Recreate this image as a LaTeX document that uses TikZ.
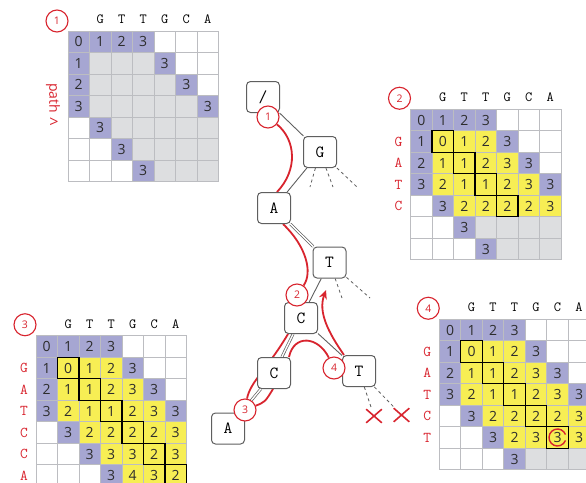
\documentclass[tikz,border=0pt]{standalone}
\usepackage{fontspec}
\newfontfamily\numfont{Open Sans}
\usetikzlibrary{arrows.meta, positioning, backgrounds, shapes.misc}
\definecolor{cellblue}{RGB}{166,166,210}
\definecolor{cellyellow}{RGB}{247,238,84}
\definecolor{cellgray}{RGB}{221,222,224}
\definecolor{gridgray}{RGB}{188,189,193}
\definecolor{pathred}{RGB}{216,36,46}
\definecolor{nodegray}{RGB}{95,95,95}
\definecolor{digitgray}{RGB}{45,45,45}

\begin{document}
\begin{tikzpicture}[x=1pt, y=-1pt,
    cell/.style={draw=gridgray, line width=0.8pt, minimum width=21.5pt, minimum height=21.5pt, inner sep=0pt, outer sep=0pt, text=digitgray, font=\numfont\fontsize{14}{14}\selectfont},
    bl/.style={fill=cellblue},
    ye/.style={fill=cellyellow},
    gr/.style={fill=cellgray},
    wh/.style={fill=white},
    diag/.style={draw=black, line width=1.2pt},
    hdr/.style={inner sep=0pt, font=\ttfamily\fontsize{14}{14}\selectfont},
    rowlab/.style={inner sep=0pt, text=pathred, font=\ttfamily\fontsize{15}{15}\selectfont},
    stepnum/.style={circle, draw=pathred, line width=1.1pt, fill=white, minimum size=22pt, inner sep=0pt, text=pathred, font=\numfont\fontsize{10.5}{10.5}\selectfont},
    pathlab/.style={inner sep=0pt, text=pathred, font=\numfont\fontsize{14}{14}\selectfont},
    trie/.style={draw=nodegray, fill=white, line width=1pt, rounded corners=4pt, minimum width=33pt, minimum height=31pt, inner sep=0pt, font=\ttfamily\fontsize{17}{17}\selectfont},
    edge/.style={draw=nodegray, line width=0.9pt},
    dedge/.style={draw=nodegray, line width=0.7pt, double=white, double distance=1.4pt},
    stub/.style={draw=nodegray, line width=0.8pt, dash pattern=on 3pt off 3pt},
    redpath/.style={draw=pathred, line width=1.8pt},
    xmark/.style={cross out, draw=pathred, line width=1.6pt, minimum width=14pt, minimum height=12pt, inner sep=0pt}
]
\useasboundingbox (0,0) rectangle (586,482);
\clip (0,0) rectangle (586,482);

% matrix 1
\foreach \row [count=\rw from 0] in {
    {bl/0,bl/1,bl/2,bl/3,wh/,wh/,wh/},
    {bl/1,gr/,gr/,gr/,bl/3,wh/,wh/},
    {bl/2,gr/,gr/,gr/,gr/,bl/3,wh/},
    {bl/3,gr/,gr/,gr/,gr/,gr/,bl/3},
    {wh/,bl/3,gr/,gr/,gr/,gr/,gr/},
    {wh/,wh/,bl/3,gr/,gr/,gr/,gr/},
    {wh/,wh/,wh/,bl/3,gr/,gr/,gr/}}
  \foreach \s/\v [count=\col from 0] in \row
    \node[cell, \s] (ma-\rw-\col) at ({78.75+21.5*\col}, {41.75+21.5*\rw}) {\v};
\foreach \letter [count=\col] in {G,T,T,G,C,A}
  \node[hdr] (ma-h\col) at ([yshift=12pt]ma-0-\col.north) {\letter};
\node[stepnum] (na) at ([shift={(-11pt,10pt)}]ma-0-0.north west) {1};
\node[pathlab, rotate=-90] (plab) at ([shift={(-15pt,8pt)}]ma-3-0.west) {path};
\node[pathlab, font=\numfont\fontsize{16}{16}\selectfont] (parrow) at ([shift={(-14pt,-16pt)}]ma-3-0.west) {>};

% matrix 2
\foreach \row [count=\rw from 0] in {
    {bl/0,bl/1,bl/2,bl/3,wh/,wh/,wh/},
    {bl/1,ye/0,ye/1,ye/2,bl/3,wh/,wh/},
    {bl/2,ye/1,ye/1,ye/2,ye/3,bl/3,wh/},
    {bl/3,ye/2,ye/1,ye/1,ye/2,ye/3,bl/3},
    {wh/,bl/3,ye/2,ye/2,ye/2,ye/2,ye/3},
    {wh/,wh/,bl/3,gr/,gr/,gr/,gr/},
    {wh/,wh/,wh/,bl/3,gr/,gr/,gr/}}
  \foreach \s/\v [count=\col from 0] in \row
    \node[cell, \s] (mb-\rw-\col) at ({421.25+21.5*\col}, {120+21.5*\rw}) {\v};
\foreach \i in {1,...,4}
  \draw[diag] (mb-\i-\i.north west) rectangle (mb-\i-\i.south east);
\foreach \letter [count=\col] in {G,T,T,G,C,A}
  \node[hdr] (mb-h\col) at ([yshift=12pt]mb-0-\col.north) {\letter};
\foreach \letter [count=\rw] in {G,A,T,C}
  \node[rowlab] (mb-l\rw) at ([xshift=-12pt]mb-\rw-0.west) {\letter};
\node[stepnum] (nb) at ([shift={(-11pt,11pt)}]mb-0-0.north west) {2};

% matrix 3
\foreach \row [count=\rw from 0] in {
    {bl/0,bl/1,bl/2,bl/3,wh/,wh/,wh/},
    {bl/1,ye/0,ye/1,ye/2,bl/3,wh/,wh/},
    {bl/2,ye/1,ye/1,ye/2,ye/3,bl/3,wh/},
    {bl/3,ye/2,ye/1,ye/1,ye/2,ye/3,bl/3},
    {wh/,bl/3,ye/2,ye/2,ye/2,ye/2,ye/3},
    {wh/,wh/,bl/3,ye/3,ye/3,ye/2,ye/3},
    {wh/,wh/,wh/,bl/3,ye/4,ye/3,ye/2}}
  \foreach \s/\v [count=\col from 0] in \row
    \node[cell, \s] (mc-\rw-\col) at ({46.75+21.5*\col}, {346.5+21.5*\rw}) {\v};
\foreach \i in {1,...,6}
  \draw[diag] (mc-\i-\i.north west) rectangle (mc-\i-\i.south east);
\foreach \letter [count=\col] in {G,T,T,G,C,A}
  \node[hdr] (mc-h\col) at ([yshift=12pt]mc-0-\col.north) {\letter};
\foreach \letter [count=\rw] in {G,A,T,C,C,A}
  \node[rowlab] (mc-l\rw) at ([xshift=-12pt]mc-\rw-0.west) {\letter};
\node[stepnum] (nc) at ([shift={(-11pt,11pt)}]mc-0-0.north west) {3};

% matrix 4
\foreach \row [count=\rw from 0] in {
    {bl/0,bl/1,bl/2,bl/3,wh/,wh/,wh/},
    {bl/1,ye/0,ye/1,ye/2,bl/3,wh/,wh/},
    {bl/2,ye/1,ye/1,ye/2,ye/3,bl/3,wh/},
    {bl/3,ye/2,ye/1,ye/1,ye/2,ye/3,bl/3},
    {wh/,bl/3,ye/2,ye/2,ye/2,ye/2,ye/3},
    {wh/,wh/,bl/3,ye/2,ye/3,ye/3,ye/3},
    {wh/,wh/,wh/,bl/3,gr/,gr/,gr/}}
  \foreach \s/\v [count=\col from 0] in \row
    \node[cell, \s] (md-\rw-\col) at ({450+21.5*\col}, {330+21.5*\rw}) {\v};
\foreach \i in {1,...,5}
  \draw[diag] (md-\i-\i.north west) rectangle (md-\i-\i.south east);
\foreach \letter [count=\col] in {G,T,T,G,C,A}
  \node[hdr] (md-h\col) at ([yshift=12pt]md-0-\col.north) {\letter};
\foreach \letter [count=\rw] in {G,A,T,C,T}
  \node[rowlab] (md-l\rw) at ([xshift=-12pt]md-\rw-0.west) {\letter};
\node[stepnum] (nd) at ([shift={(-11pt,11pt)}]md-0-0.north west) {4};
\draw[pathred, line width=1.4pt] ([shift={(20:8.5pt)}]md-5-5.center) arc[start angle=20, end angle=340, radius=8.5pt];

% trie
\node[trie] (root) at (263,97) {/};
\node[trie] (g) at (320,152) {G};
\node[trie] (a) at (274,208) {A};
\node[trie] (t) at (329.5,262.5) {T};
\node[trie] (c1) at (301,318) {C};
\node[trie] (c2) at (274,373) {C};
\node[trie] (t2) at (359,371) {T};
\node[trie] (a2) at (228,428.5) {A};
\node[xmark] (x1) at (374,416) {};
\node[xmark] (x2) at (401.5,415) {};
\coordinate (gs1) at (310,187);
\coordinate (gs2) at (333,187);
\coordinate (gs3) at (357,187);
\coordinate (ts1) at (342,298);
\coordinate (ts2) at (370,298);
\coordinate (tip) at (326,290);

\node[stepnum] (p1) at (268,117) {1};
\node[stepnum] (p2) at (297,295) {2};
\node[stepnum] (p3) at (245,410) {3};
\node[stepnum] (p4) at (334,368) {4};

\begin{scope}[on background layer]
\draw[edge] (root) -- (g);
\draw[edge] (g) -- (a);
\draw[dedge] (a) -- (t);
\draw[edge] (t) -- (c1);
\draw[dedge] (c1) -- (c2);
\draw[dedge] (c2) -- (a2);
\draw[edge] (c1) -- (t2);
\draw[stub] (g) -- (gs1);
\draw[stub] (g) -- (gs2);
\draw[stub] (g) -- (gs3);
\draw[stub] (t) -- (ts1);
\draw[stub] (t) -- (ts2);
\draw[stub] (t2) -- (x1);
\draw[stub] (t2) -- (x2);
\draw[redpath] (p1) .. controls (296,140) and (298,170) .. ([xshift=3pt]a.north);
\draw[redpath] (283,224) .. controls (306,246) and (313,272) .. (p2);
\draw[redpath] (288,334) .. controls (268,368) and (250,382) .. (p3);
\draw[redpath] (p3) .. controls (265,402) .. ([xshift=-1pt]c2.south);
\draw[redpath] ([xshift=-2pt]c2.north east) .. controls (294,334) and (318,336) .. (p4);
\draw[redpath, -{Stealth[length=9pt, width=8pt]}] ([xshift=2pt]t2.north west) .. controls (328,332) and (318,312) .. (tip);
\end{scope}
\end{tikzpicture}
\end{document}
